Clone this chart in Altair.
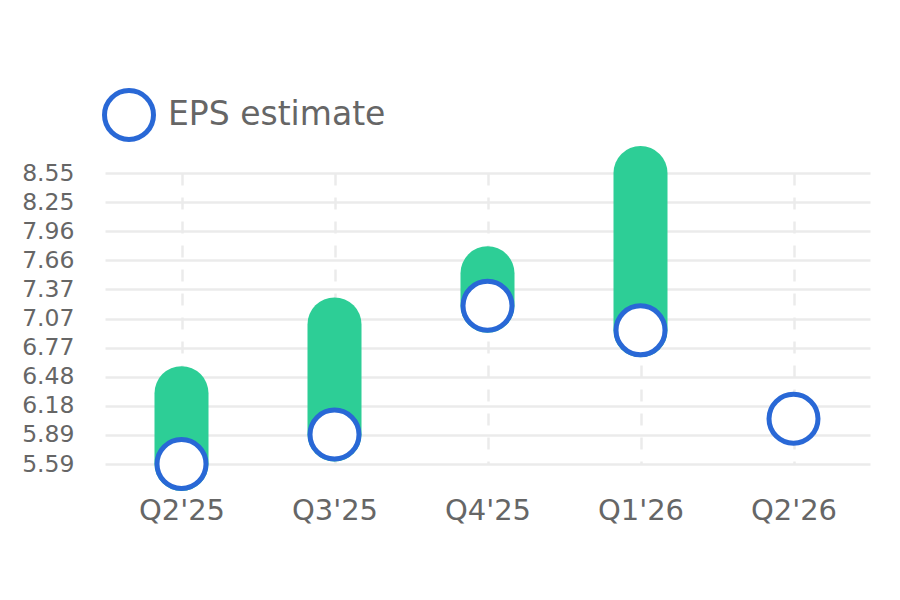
import altair as alt
import pandas as pd

quarters = ["Q2'25", "Q3'25", "Q4'25", "Q1'26", "Q2'26"]
estimates = [5.59, 5.89, 7.20, 6.95, 6.05]
actuals = [6.31, 7.01, 7.53, 8.55, None]
y_ticks = [5.59, 5.886, 6.182, 6.478, 6.774, 7.07, 7.366, 7.662, 7.958, 8.254, 8.55]

green = "#2dce96"
blue = "#2968d6"

df = pd.DataFrame({"quarter": quarters, "estimate": estimates, "actual": actuals})
df["series"] = "EPS estimate"

x = alt.X("quarter:N", sort=quarters, title=None,
          scale=alt.Scale(type="point", padding=0.5),
          axis=alt.Axis(labelAngle=0, ticks=False, domain=False, grid=True,
                        gridDash=[12, 12], gridColor="#ebebeb", gridWidth=2.5,
                        labelFontSize=29, labelColor="#666666", labelPadding=32))
y_scale = alt.Scale(domain=[5.59, 8.55], nice=False, zero=False)
y_axis = alt.Axis(values=y_ticks, format=".2f", ticks=False, domain=False,
                  gridColor="#ebebeb", gridWidth=2.5,
                  labelFontSize=23.5, labelColor="#666666", labelPadding=31)

bars = alt.Chart(df).transform_filter("isValid(datum.actual)").mark_rule(
    strokeWidth=54, strokeCap="round", color=green
).encode(
    x=x,
    y=alt.Y("estimate:Q", scale=y_scale, axis=y_axis, title=None),
    y2="actual:Q",
)

points = alt.Chart(df).mark_point(
    shape="circle", filled=True, fill="white", size=2400, strokeWidth=5, opacity=1
).encode(
    x=x,
    y=alt.Y("estimate:Q", scale=y_scale, axis=y_axis, title=None),
    stroke=alt.Stroke("series:N", title=None,
                      scale=alt.Scale(domain=["EPS estimate"], range=[blue]),
                      legend=alt.Legend(orient="none", legendX=-3, legendY=-85,
                                        symbolType="circle", symbolSize=2400,
                                        symbolStrokeWidth=5, symbolFillColor="white",
                                        labelFontSize=33, labelColor="#666666",
                                        labelOffset=12, labelLimit=400)),
)

chart = (bars + points).properties(
    width=765, height=291,
    padding={"left": 97, "top": 165, "right": 22, "bottom": 128},
    autosize=alt.AutoSizeParams(type="none"),
).configure(font="DejaVu Sans").configure_view(stroke=None)

chart.save("out.html", embed_options={"renderer": "svg", "actions": False})
